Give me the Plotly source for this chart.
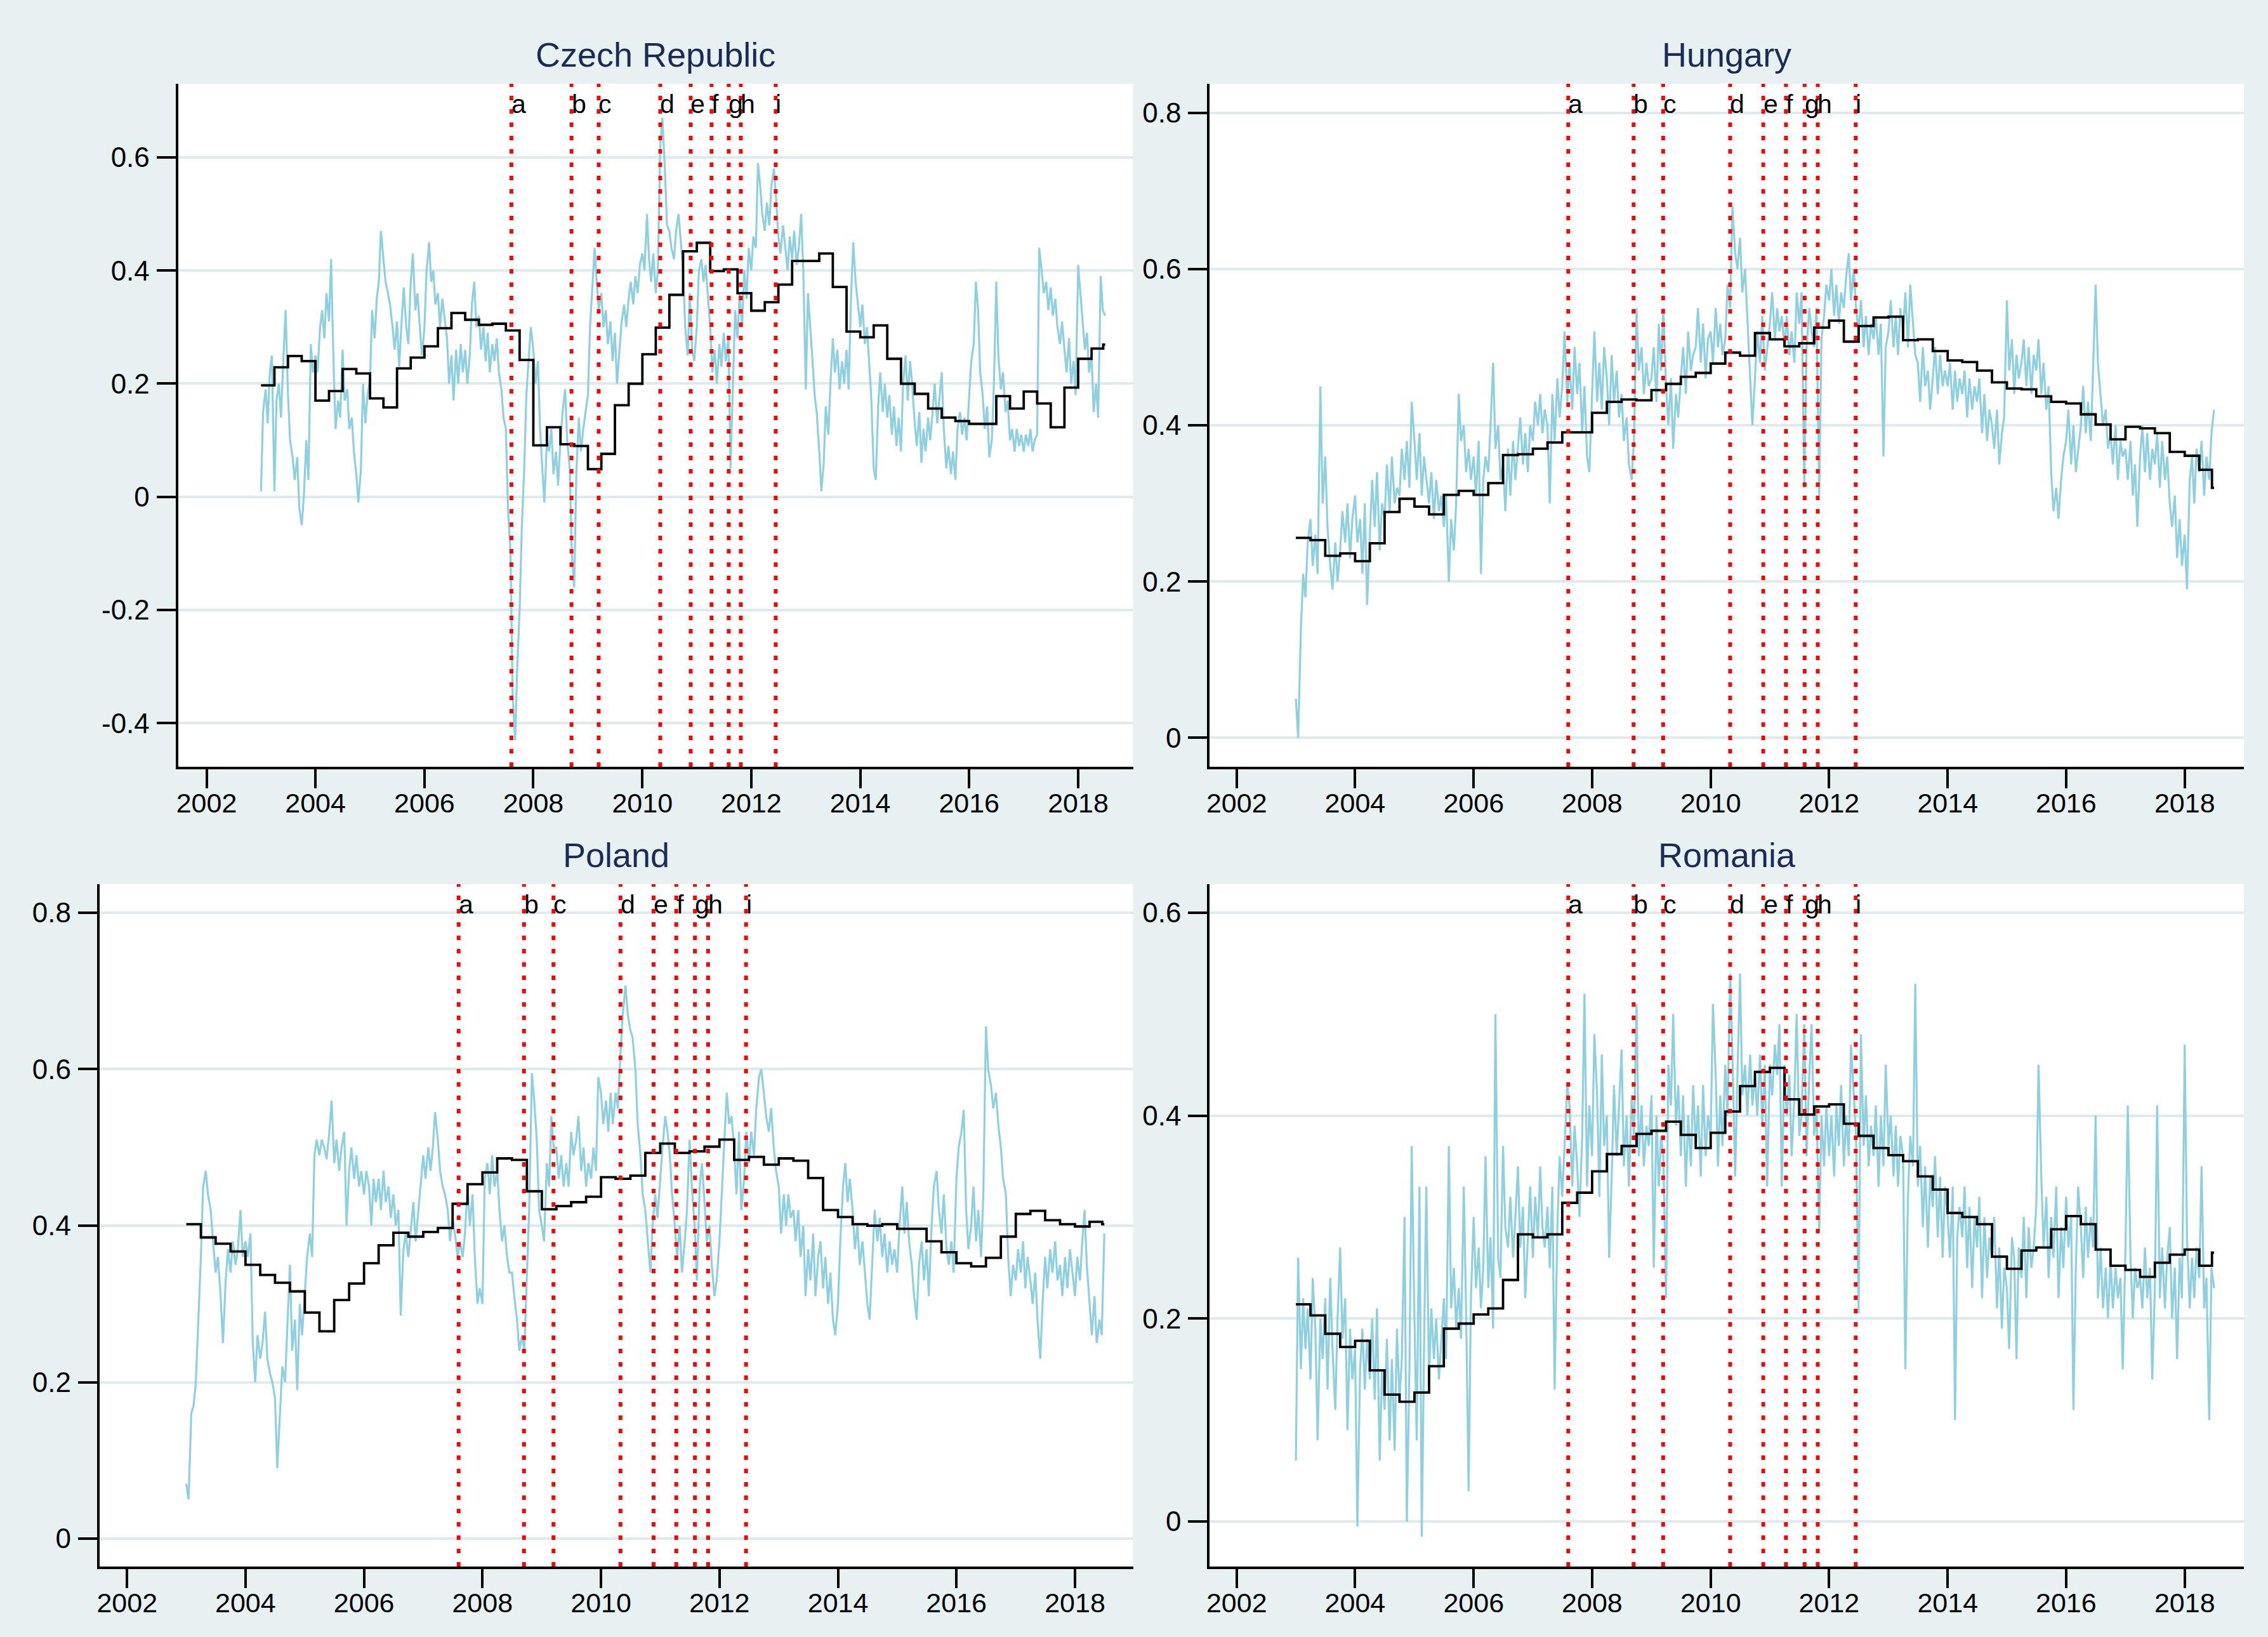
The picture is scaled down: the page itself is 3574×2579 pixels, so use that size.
import pandas as pd
import plotly.graph_objects as go

# ---------------- data ----------------
countries = ["Czech Republic", "Hungary", "Poland", "Romania"]

event_labels = ["a", "b", "c", "d", "e", "f", "g", "h", "i"]
event_dates = ["2007-08-07", "2008-09-13", "2009-03-14", "2010-05-01", "2010-11-21",
               "2011-04-10", "2011-08-03", "2011-10-23", "2012-06-13"]

# semi-monthly correlation values, Jan 2003 .. Jul 2018
cz_corr = [
    0.01, 0.15, 0.19, 0.13, 0.22, 0.25, 0.01, 0.17, 0.20, 0.14, 0.25, 0.33, 0.18, 0.10, 0.07, 0.03, 0.07, -0.02, -0.05, 0.00, 0.10, 0.03, 0.27, 0.22,
    0.25, 0.22, 0.30, 0.33, 0.28, 0.36, 0.31, 0.42, 0.24, 0.12, 0.17, 0.14, 0.26, 0.17, 0.19, 0.12, 0.14, 0.08, 0.04, -0.01, 0.05, 0.20, 0.13, 0.18,
    0.21, 0.33, 0.28, 0.35, 0.38, 0.47, 0.42, 0.38, 0.36, 0.34, 0.30, 0.26, 0.31, 0.23, 0.31, 0.37, 0.30, 0.27, 0.38, 0.43, 0.33, 0.36, 0.30, 0.25,
    0.30, 0.40, 0.45, 0.38, 0.40, 0.34, 0.36, 0.30, 0.35, 0.32, 0.28, 0.20, 0.25, 0.17, 0.26, 0.20, 0.27, 0.22, 0.26, 0.20, 0.25, 0.34, 0.38, 0.30,
    0.32, 0.26, 0.30, 0.24, 0.29, 0.22, 0.27, 0.24, 0.28, 0.22, 0.19, 0.14, 0.12, -0.02, -0.10, -0.35, -0.43, -0.30, -0.20, -0.06, 0.05, 0.18, 0.24, 0.30,
    0.26, 0.20, 0.24, 0.12, 0.05, -0.01, 0.10, 0.08, 0.12, 0.04, 0.08, 0.02, 0.10, 0.15, 0.19, 0.10, 0.05, -0.10, -0.16, 0.04, 0.14, 0.08, 0.12, 0.15,
    0.18, 0.30, 0.38, 0.44, 0.38, 0.33, 0.36, 0.30, 0.33, 0.27, 0.31, 0.24, 0.29, 0.20, 0.26, 0.31, 0.34, 0.30, 0.35, 0.38, 0.34, 0.39, 0.36, 0.41,
    0.43, 0.40, 0.50, 0.42, 0.38, 0.43, 0.36, 0.40, 0.62, 0.67, 0.58, 0.48, 0.47, 0.44, 0.42, 0.47, 0.50, 0.45, 0.40, 0.30, 0.25, 0.36, 0.26, 0.24,
    0.30, 0.40, 0.42, 0.38, 0.41, 0.36, 0.30, 0.22, 0.26, 0.20, 0.27, 0.23, 0.29, 0.24, 0.28, 0.05, 0.20, 0.33, 0.28, 0.36, 0.30, 0.40, 0.35, 0.44,
    0.40, 0.46, 0.44, 0.59, 0.55, 0.50, 0.47, 0.52, 0.48, 0.55, 0.58, 0.53, 0.46, 0.43, 0.48, 0.44, 0.40, 0.46, 0.42, 0.47, 0.41, 0.44, 0.50, 0.40,
    0.19, 0.36, 0.30, 0.24, 0.18, 0.15, 0.08, 0.01, 0.06, 0.16, 0.11, 0.20, 0.28, 0.22, 0.26, 0.19, 0.24, 0.20, 0.26, 0.19, 0.36, 0.45, 0.38, 0.34,
    0.30, 0.34, 0.27, 0.30, 0.24, 0.18, 0.05, 0.03, 0.16, 0.22, 0.15, 0.20, 0.14, 0.18, 0.11, 0.16, 0.09, 0.14, 0.08, 0.20, 0.25, 0.17, 0.24, 0.20,
    0.13, 0.09, 0.15, 0.06, 0.12, 0.08, 0.14, 0.10, 0.15, 0.20, 0.13, 0.17, 0.22, 0.12, 0.05, 0.09, 0.04, 0.08, 0.03, 0.12, 0.15, 0.11, 0.14, 0.10,
    0.18, 0.24, 0.27, 0.38, 0.33, 0.22, 0.18, 0.12, 0.16, 0.07, 0.10, 0.20, 0.38, 0.25, 0.19, 0.22, 0.15, 0.17, 0.10, 0.12, 0.08, 0.12, 0.09, 0.11,
    0.08, 0.11, 0.09, 0.12, 0.08, 0.10, 0.11, 0.44, 0.40, 0.36, 0.38, 0.33, 0.37, 0.32, 0.35, 0.30, 0.27, 0.31, 0.26, 0.22, 0.28, 0.20, 0.24, 0.18,
    0.41, 0.36, 0.31, 0.26, 0.29, 0.22, 0.25, 0.15, 0.20, 0.14, 0.39, 0.33, 0.32,
]

hu_corr = [
    0.05, 0.00, 0.14, 0.21, 0.18, 0.25, 0.28, 0.22, 0.26, 0.21, 0.45, 0.30, 0.36, 0.27, 0.22, 0.19, 0.25, 0.20, 0.24, 0.29, 0.25, 0.30, 0.23, 0.28,
    0.31, 0.25, 0.28, 0.21, 0.30, 0.17, 0.26, 0.33, 0.27, 0.34, 0.24, 0.30, 0.28, 0.35, 0.29, 0.36, 0.30, 0.32, 0.31, 0.37, 0.33, 0.38, 0.32, 0.43,
    0.38, 0.33, 0.39, 0.31, 0.36, 0.33, 0.30, 0.34, 0.28, 0.33, 0.29, 0.31, 0.27, 0.31, 0.20, 0.28, 0.24, 0.30, 0.44, 0.38, 0.40, 0.34, 0.37, 0.33,
    0.36, 0.31, 0.38, 0.21, 0.33, 0.36, 0.34, 0.40, 0.48, 0.37, 0.40, 0.33, 0.35, 0.29, 0.37, 0.31, 0.38, 0.33, 0.37, 0.41, 0.35, 0.39, 0.34, 0.40,
    0.38, 0.43, 0.40, 0.44, 0.39, 0.42, 0.40, 0.30, 0.44, 0.38, 0.46, 0.41, 0.45, 0.52, 0.43, 0.48, 0.42, 0.50, 0.44, 0.48, 0.39, 0.45, 0.36, 0.34,
    0.44, 0.52, 0.43, 0.48, 0.42, 0.50, 0.46, 0.40, 0.49, 0.43, 0.47, 0.41, 0.44, 0.38, 0.41, 0.35, 0.33, 0.38, 0.55, 0.47, 0.50, 0.44, 0.48, 0.45,
    0.46, 0.50, 0.43, 0.53, 0.47, 0.55, 0.45, 0.40, 0.46, 0.37, 0.44, 0.41, 0.46, 0.50, 0.44, 0.52, 0.47, 0.49, 0.50, 0.55, 0.48, 0.53, 0.46, 0.51,
    0.52, 0.48, 0.55, 0.50, 0.53, 0.49, 0.51, 0.58, 0.55, 0.68, 0.62, 0.60, 0.64, 0.57, 0.60, 0.54, 0.47, 0.40, 0.46, 0.52, 0.48, 0.54, 0.47, 0.50,
    0.53, 0.57, 0.51, 0.55, 0.52, 0.54, 0.50, 0.54, 0.49, 0.52, 0.48, 0.57, 0.53, 0.57, 0.32, 0.50, 0.55, 0.52, 0.50, 0.55, 0.31, 0.51, 0.54, 0.58,
    0.56, 0.60, 0.54, 0.58, 0.53, 0.57, 0.55, 0.59, 0.62, 0.56, 0.60, 0.55, 0.52, 0.56, 0.50, 0.54, 0.49, 0.53, 0.51, 0.54, 0.49, 0.53, 0.36, 0.50,
    0.52, 0.56, 0.50, 0.54, 0.49, 0.55, 0.52, 0.57, 0.50, 0.58, 0.53, 0.49, 0.48, 0.43, 0.50, 0.45, 0.47, 0.42, 0.46, 0.50, 0.44, 0.49, 0.45, 0.47,
    0.45, 0.48, 0.42, 0.47, 0.43, 0.46, 0.44, 0.47, 0.41, 0.46, 0.42, 0.45, 0.43, 0.46, 0.39, 0.44, 0.38, 0.42, 0.40, 0.37, 0.42, 0.35, 0.39, 0.41,
    0.56, 0.47, 0.51, 0.44, 0.49, 0.46, 0.48, 0.51, 0.45, 0.50, 0.44, 0.49, 0.47, 0.51, 0.44, 0.48, 0.42, 0.45, 0.34, 0.29, 0.32, 0.28, 0.33, 0.36,
    0.38, 0.42, 0.35, 0.40, 0.34, 0.37, 0.40, 0.45, 0.39, 0.43, 0.38, 0.47, 0.58, 0.48, 0.44, 0.40, 0.42, 0.37, 0.39, 0.35, 0.40, 0.33, 0.38, 0.36,
    0.37, 0.33, 0.38, 0.31, 0.35, 0.27, 0.36, 0.40, 0.34, 0.39, 0.33, 0.37, 0.35, 0.39, 0.32, 0.38, 0.33, 0.36, 0.30, 0.27, 0.31, 0.23, 0.28, 0.22,
    0.26, 0.19, 0.33, 0.36, 0.30, 0.37, 0.34, 0.38, 0.31, 0.36, 0.33, 0.39, 0.42,
]

pl_corr = [
    0.07, 0.05, 0.16, 0.17, 0.20, 0.27, 0.36, 0.45, 0.47, 0.44, 0.42, 0.38, 0.34, 0.36, 0.31, 0.25, 0.33, 0.37, 0.34, 0.38, 0.35, 0.37, 0.42, 0.36,
    0.38, 0.36, 0.39, 0.25, 0.20, 0.26, 0.23, 0.25, 0.29, 0.23, 0.21, 0.20, 0.18, 0.09, 0.16, 0.22, 0.20, 0.27, 0.35, 0.24, 0.28, 0.19, 0.30, 0.26,
    0.32, 0.36, 0.39, 0.36, 0.49, 0.51, 0.49, 0.51, 0.50, 0.485, 0.52, 0.56, 0.48, 0.51, 0.47, 0.50, 0.52, 0.40, 0.47, 0.50, 0.46, 0.49, 0.45, 0.47,
    0.44, 0.47, 0.45, 0.40, 0.46, 0.43, 0.46, 0.42, 0.47, 0.43, 0.45, 0.41, 0.44, 0.40, 0.42, 0.285, 0.37, 0.39, 0.36, 0.39, 0.43, 0.38, 0.42, 0.45,
    0.49, 0.46, 0.50, 0.47, 0.50, 0.545, 0.51, 0.47, 0.45, 0.44, 0.42, 0.38, 0.41, 0.39, 0.36, 0.38, 0.36, 0.39, 0.45, 0.40, 0.44, 0.36, 0.30, 0.32,
    0.30, 0.46, 0.48, 0.44, 0.49, 0.45, 0.47, 0.42, 0.38, 0.40, 0.36, 0.34, 0.34, 0.31, 0.28, 0.24, 0.26, 0.24, 0.34, 0.42, 0.595, 0.56, 0.51, 0.42,
    0.40, 0.38, 0.48, 0.45, 0.54, 0.50, 0.50, 0.46, 0.49, 0.45, 0.48, 0.45, 0.52, 0.49, 0.51, 0.54, 0.47, 0.50, 0.45, 0.48, 0.46, 0.50, 0.47, 0.59,
    0.57, 0.53, 0.56, 0.52, 0.57, 0.53, 0.57, 0.55, 0.62, 0.67, 0.707, 0.67, 0.65, 0.64, 0.60, 0.53, 0.49, 0.44, 0.42, 0.38, 0.34, 0.40, 0.44, 0.41,
    0.46, 0.50, 0.54, 0.52, 0.49, 0.44, 0.40, 0.36, 0.40, 0.34, 0.38, 0.42, 0.51, 0.45, 0.40, 0.33, 0.45, 0.48, 0.43, 0.38, 0.40, 0.35, 0.31, 0.33,
    0.38, 0.44, 0.52, 0.57, 0.53, 0.54, 0.50, 0.44, 0.52, 0.42, 0.46, 0.52, 0.48, 0.52, 0.49, 0.55, 0.59, 0.60, 0.57, 0.54, 0.52, 0.55, 0.50, 0.47,
    0.45, 0.39, 0.44, 0.40, 0.44, 0.41, 0.42, 0.38, 0.42, 0.36, 0.40, 0.31, 0.37, 0.33, 0.39, 0.31, 0.36, 0.38, 0.32, 0.36, 0.30, 0.34, 0.28, 0.26,
    0.30, 0.38, 0.45, 0.48, 0.43, 0.46, 0.42, 0.37, 0.40, 0.35, 0.38, 0.34, 0.30, 0.28, 0.36, 0.42, 0.38, 0.41, 0.36, 0.39, 0.34, 0.38, 0.35, 0.37,
    0.34, 0.40, 0.45, 0.39, 0.43, 0.38, 0.35, 0.31, 0.28, 0.35, 0.38, 0.33, 0.37, 0.31, 0.40, 0.45, 0.47, 0.42, 0.39, 0.44, 0.37, 0.35, 0.38, 0.34,
    0.46, 0.50, 0.52, 0.548, 0.42, 0.37, 0.40, 0.45, 0.38, 0.42, 0.36, 0.44, 0.655, 0.60, 0.58, 0.55, 0.57, 0.53, 0.50, 0.46, 0.44, 0.36, 0.31, 0.35,
    0.33, 0.37, 0.34, 0.38, 0.32, 0.36, 0.33, 0.30, 0.34, 0.28, 0.23, 0.30, 0.36, 0.32, 0.37, 0.34, 0.38, 0.33, 0.35, 0.31, 0.36, 0.32, 0.37, 0.34,
    0.31, 0.36, 0.33, 0.38, 0.42, 0.35, 0.30, 0.26, 0.31, 0.25, 0.28, 0.26, 0.39,
]

ro_corr = [
    0.06, 0.26, 0.15, 0.22, 0.17, 0.21, 0.14, 0.24, 0.19, 0.08, 0.20, 0.16, 0.22, 0.13, 0.24, 0.17, 0.11, 0.20, 0.27, 0.18, 0.22, 0.09, 0.19, 0.14,
    0.17, -0.005, 0.15, 0.19, 0.13, 0.18, 0.14, 0.20, 0.12, 0.21, 0.06, 0.15, 0.11, 0.18, 0.08, 0.16, 0.07, 0.19, 0.12, 0.16, 0.30, 0.00, 0.15, 0.37,
    0.20, 0.08, 0.33, -0.015, 0.17, 0.33, 0.14, 0.21, 0.16, 0.20, 0.14, 0.18, 0.22, 0.16, 0.37, 0.21, 0.25, 0.19, 0.23, 0.18, 0.33, 0.21, 0.03, 0.22,
    0.30, 0.23, 0.27, 0.21, 0.25, 0.36, 0.23, 0.28, 0.19, 0.50, 0.26, 0.24, 0.37, 0.29, 0.27, 0.32, 0.26, 0.30, 0.35, 0.27, 0.31, 0.22, 0.28, 0.33,
    0.26, 0.32, 0.28, 0.35, 0.29, 0.27, 0.31, 0.25, 0.33, 0.13, 0.29, 0.36, 0.32, 0.37, 0.43, 0.41, 0.33, 0.39, 0.35, 0.30, 0.38, 0.52, 0.33, 0.41,
    0.36, 0.48, 0.42, 0.32, 0.46, 0.37, 0.40, 0.26, 0.34, 0.43, 0.36, 0.41, 0.465, 0.35, 0.40, 0.33, 0.42, 0.38, 0.51, 0.36, 0.41, 0.35, 0.39, 0.37,
    0.42, 0.25, 0.40, 0.33, 0.38, 0.36, 0.22, 0.45, 0.41, 0.50, 0.39, 0.43, 0.36, 0.42, 0.33, 0.40, 0.35, 0.43, 0.37, 0.41, 0.34, 0.43, 0.36, 0.40,
    0.38, 0.51, 0.44, 0.35, 0.42, 0.37, 0.45, 0.40, 0.54, 0.46, 0.34, 0.44, 0.54, 0.42, 0.45, 0.40, 0.46, 0.41, 0.44, 0.40, 0.46, 0.39, 0.45, 0.33,
    0.45, 0.42, 0.47, 0.44, 0.49, 0.33, 0.45, 0.40, 0.44, 0.36, 0.42, 0.50, 0.38, 0.40, 0.49, 0.36, 0.44, 0.49, 0.38, 0.41, 0.285, 0.40, 0.35, 0.41,
    0.36, 0.40, 0.34, 0.41, 0.37, 0.43, 0.35, 0.40, 0.36, 0.47, 0.42, 0.38, 0.205, 0.48, 0.37, 0.42, 0.35, 0.39, 0.36, 0.41, 0.33, 0.40, 0.35, 0.45,
    0.37, 0.40, 0.34, 0.39, 0.33, 0.38, 0.36, 0.15, 0.32, 0.38, 0.35, 0.53, 0.33, 0.37, 0.29, 0.35, 0.27, 0.34, 0.31, 0.36, 0.28, 0.34, 0.26, 0.33,
    0.30, 0.26, 0.33, 0.10, 0.28, 0.31, 0.28, 0.33, 0.25, 0.31, 0.23, 0.30, 0.27, 0.32, 0.22, 0.30, 0.24, 0.28, 0.26, 0.30, 0.21, 0.27, 0.19, 0.25,
    0.23, 0.17, 0.28, 0.26, 0.16, 0.27, 0.24, 0.30, 0.22, 0.29, 0.25, 0.27, 0.31, 0.45, 0.34, 0.27, 0.32, 0.24, 0.30, 0.26, 0.33, 0.22, 0.29, 0.25,
    0.32, 0.27, 0.30, 0.11, 0.25, 0.33, 0.29, 0.24, 0.31, 0.26, 0.30, 0.27, 0.40, 0.22, 0.27, 0.21, 0.25, 0.20, 0.26, 0.21, 0.25, 0.22, 0.24, 0.15,
    0.27, 0.41, 0.26, 0.20, 0.25, 0.23, 0.24, 0.21, 0.27, 0.22, 0.25, 0.14, 0.23, 0.41, 0.22, 0.27, 0.21, 0.26, 0.29, 0.20, 0.25, 0.16, 0.26, 0.22,
    0.47, 0.28, 0.21, 0.26, 0.22, 0.27, 0.24, 0.35, 0.21, 0.24, 0.10, 0.25, 0.23,
]

# quarterly (step) averages, 2003Q1 .. 2018Q2, plus the short final step
cz_step = [0.197, 0.229, 0.249, 0.240, 0.170, 0.187, 0.226, 0.218, 0.174, 0.158, 0.227, 0.246,
           0.266, 0.298, 0.325, 0.313, 0.304, 0.306, 0.294, 0.242, 0.091, 0.123, 0.093, 0.090,
           0.049, 0.076, 0.162, 0.200, 0.252, 0.299, 0.357, 0.434, 0.449, 0.399, 0.402, 0.360,
           0.329, 0.344, 0.375, 0.417, 0.417, 0.430, 0.371, 0.292, 0.282, 0.303, 0.244, 0.200,
           0.182, 0.156, 0.140, 0.134, 0.129, 0.129, 0.178, 0.156, 0.186, 0.165, 0.123, 0.193,
           0.244, 0.262]
hu_step = [0.256, 0.253, 0.233, 0.236, 0.226, 0.249, 0.289, 0.306, 0.296, 0.286, 0.311, 0.316,
           0.311, 0.326, 0.362, 0.363, 0.370, 0.378, 0.391, 0.391, 0.416, 0.430, 0.433, 0.432,
           0.445, 0.453, 0.462, 0.467, 0.479, 0.493, 0.489, 0.518, 0.510, 0.501, 0.505, 0.525,
           0.534, 0.507, 0.527, 0.538, 0.539, 0.509, 0.510, 0.495, 0.483, 0.481, 0.470, 0.455,
           0.447, 0.446, 0.437, 0.430, 0.428, 0.414, 0.401, 0.382, 0.398, 0.396, 0.390, 0.366,
           0.361, 0.343]
pl_step = [0.402, 0.385, 0.377, 0.367, 0.350, 0.337, 0.327, 0.316, 0.289, 0.265, 0.305, 0.326,
           0.352, 0.375, 0.391, 0.386, 0.392, 0.397, 0.428, 0.453, 0.468, 0.486, 0.484, 0.444,
           0.421, 0.425, 0.430, 0.437, 0.462, 0.460, 0.464, 0.493, 0.505, 0.493, 0.495, 0.501,
           0.510, 0.484, 0.488, 0.478, 0.486, 0.483, 0.461, 0.420, 0.411, 0.402, 0.400, 0.402,
           0.396, 0.396, 0.380, 0.366, 0.352, 0.348, 0.359, 0.386, 0.415, 0.419, 0.407, 0.402,
           0.399, 0.405]
ro_step = [0.214, 0.203, 0.185, 0.172, 0.178, 0.149, 0.125, 0.118, 0.127, 0.153, 0.190, 0.195,
           0.204, 0.210, 0.238, 0.283, 0.280, 0.283, 0.314, 0.324, 0.345, 0.362, 0.370, 0.382,
           0.385, 0.394, 0.381, 0.368, 0.383, 0.404, 0.429, 0.443, 0.447, 0.416, 0.401, 0.409,
           0.411, 0.392, 0.380, 0.368, 0.361, 0.355, 0.340, 0.327, 0.304, 0.300, 0.293, 0.261,
           0.249, 0.267, 0.270, 0.288, 0.301, 0.293, 0.268, 0.252, 0.248, 0.241, 0.255, 0.263,
           0.268, 0.252]
step_last = [0.269, 0.320, 0.402, 0.265]

y_ticks = [
    [-0.4, -0.2, 0, 0.2, 0.4, 0.6],
    [0, 0.2, 0.4, 0.6, 0.8],
    [0, 0.2, 0.4, 0.6, 0.8],
    [0, 0.2, 0.4, 0.6],
]
x_tick_years = [2002, 2004, 2006, 2008, 2010, 2012, 2014, 2016, 2018]

# ---------------- layout geometry / styles ----------------
W, H = 3574, 2579
BG = "#E8F1F2"
GRID = "#DEEAEC"
BLUE = "#8ECFE0"
FONT = "Liberation Sans, Arial, sans-serif"
TITLE_COLOR = "#1B2A57"

panels = [
    dict(corr=cz_corr, step=cz_step, yr=[-0.477, 0.730], xr=["2001-06-24", "2019-01-04"],
         xd=[276 / W, 1783 / W], yd=[1 - 1208 / H, 1 - 132 / H]),
    dict(corr=hu_corr, step=hu_step, yr=[-0.037, 0.837], xr=["2001-07-19", "2019-01-01"],
         xd=[1904 / W, 3536 / W], yd=[1 - 1208 / H, 1 - 132 / H]),
    dict(corr=pl_corr, step=pl_step, yr=[-0.0357, 0.8365], xr=["2001-07-15", "2018-12-25"],
         xd=[152 / W, 1783 / W], yd=[1 - 2468 / H, 1 - 1393 / H]),
    dict(corr=ro_corr, step=ro_step, yr=[-0.0444, 0.628], xr=["2001-07-19", "2019-01-01"],
         xd=[1904 / W, 3536 / W], yd=[1 - 2468 / H, 1 - 1393 / H]),
]


def fmt(v):
    return f"{v:g}"


fig = go.Figure()
layout = dict(
    width=W, height=H, autosize=False,
    margin=dict(l=0, r=0, t=0, b=0),
    paper_bgcolor=BG, plot_bgcolor="white",
    showlegend=False,
    font=dict(family=FONT, color="black"),
)
annotations = []
shapes = []

for k, p in enumerate(panels):
    n = "" if k == 0 else str(k + 1)
    xa, ya = "x" + n, "y" + n
    corr_dates = pd.date_range("2003-01-01", periods=len(p["corr"]), freq="SMS")
    q_dates = list(pd.date_range("2003-01-01", periods=len(p["step"]), freq="QS"))
    step_x = q_dates + [pd.Timestamp("2018-06-18"), pd.Timestamp("2018-07-01")]
    step_y = list(p["step"]) + [step_last[k], step_last[k]]

    fig.add_trace(go.Scatter(x=corr_dates, y=p["corr"], mode="lines",
                             line=dict(color=BLUE, width=3.2), xaxis=xa, yaxis=ya,
                             hoverinfo="skip"))
    fig.add_trace(go.Scatter(x=step_x, y=step_y, mode="lines", line_shape="hv",
                             line=dict(color="black", width=3.8), xaxis=xa, yaxis=ya,
                             hoverinfo="skip"))

    layout["xaxis" + n] = dict(
        domain=p["xd"], range=p["xr"], type="date", anchor=ya,
        tickvals=[f"{y}-01-01" for y in x_tick_years], ticktext=[str(y) for y in x_tick_years],
        ticks="outside", ticklen=30, tickwidth=4, tickcolor="black",
        showline=True, linewidth=4, linecolor="black", showgrid=False, zeroline=False,
        tickfont=dict(size=43, color="black", family=FONT), ticklabelstandoff=-14,
    )
    layout["yaxis" + n] = dict(
        domain=p["yd"], range=p["yr"], anchor=xa,
        tickvals=y_ticks[k], ticktext=[fmt(v) for v in y_ticks[k]],
        ticks="outside", ticklen=30, tickwidth=4, tickcolor="black",
        showline=True, linewidth=4, linecolor="black",
        showgrid=True, gridcolor=GRID, gridwidth=4, zeroline=False,
        tickfont=dict(size=44, color="black", family=FONT), ticklabelstandoff=2,
    )

    for lab, d in zip(event_labels, event_dates):
        shapes.append(dict(type="line", xref=xa, yref=ya + " domain", x0=d, x1=d, y0=0, y1=1,
                           layer="above",
                           line=dict(color="#FF0000", width=6, dash="7px,14px")))
        annotations.append(dict(xref=xa, yref=ya + " domain", x=d, y=0.97, text=lab,
                                showarrow=False, xanchor="left", yanchor="middle", xshift=-2,
                                font=dict(size=41, color="black", family=FONT)))

    annotations.append(dict(xref="paper", yref="paper", x=(p["xd"][0] + p["xd"][1]) / 2,
                            y=p["yd"][1] + 46 / H, text=countries[k], showarrow=False,
                            xanchor="center", yanchor="middle",
                            font=dict(size=54, color=TITLE_COLOR, family=FONT)))

layout["annotations"] = annotations
layout["shapes"] = shapes
fig.update_layout(**layout)

fig.write_html("out.html", config={"displayModeBar": False},
               post_script="document.body.style.margin='0';document.body.style.overflow='hidden';")
